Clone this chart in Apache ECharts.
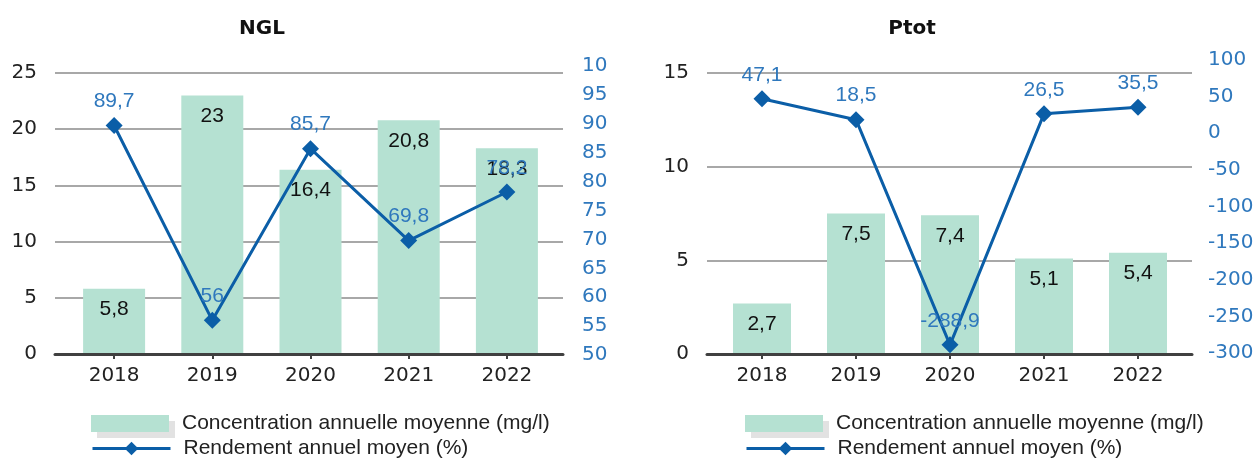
<!DOCTYPE html>
<html>
<head>
<meta charset="utf-8">
<script src="https://cdn.jsdelivr.net/npm/echarts@6/dist/echarts.min.js"></script>
<style>
	body { margin: 0; background: #fff; }
	.box { position: absolute; top: 0; height: 459px; }
</style>
</head>
<body>
<div id="ngl" class="box" style="left:0;width:607px"></div>
<div id="ptot" class="box" style="left:630px;width:630px"></div>
<script>
const years = ["2018", "2019", "2020", "2021", "2022"];
const nglConc = [5.8, 23, 16.4, 20.8, 18.3];
const nglRend = [89.7, 56, 85.7, 69.8, 78.2];
const ptotConc = [2.7, 7.5, 7.4, 5.1, 5.4];
const ptotRend = [47.1, 18.5, -288.9, 26.5, 35.5];

const concName = "Concentration annuelle moyenne (mg/l)";
const rendName = "Rendement annuel moyen (%)";

const axisFont = "DejaVu Sans";
const labelFont = "Liberation Sans";
const blue = "#2f78bd";
const lineBlue = "#0b5ea7";
const mint = "#b5e1d2";

function comma(v) {
	return String(v).replace(".", ",");
}

function legendRow(left, top, item) {
	return {
		left: left,
		top: top,
		padding: 0,
		itemWidth: 78,
		itemHeight: 17,
		selectedMode: false,
		textStyle: { fontFamily: labelFont, fontSize: 21, color: "#222", padding: [0, 0, 0, 8] },
		data: [item],
	};
}

function build(el, c) {
	let chart = echarts.init(document.getElementById(el));
	chart.setOption({
		animation: false,
		title: {
			text: c.title,
			left: c.titleX,
			top: 14,
			textAlign: "center",
			textStyle: { fontFamily: axisFont, fontSize: 20, fontWeight: "bold", color: "#111" },
		},
		legend: [
			legendRow(c.legendX, 413, {
				name: concName,
				icon: "rect",
				itemStyle: { shadowColor: "#e2e2e2", shadowOffsetX: 6, shadowOffsetY: 6, shadowBlur: 0 },
			}),
			legendRow(c.legendX, 438, { name: rendName, lineStyle: { width: 3 } }),
		],
		grid: [
			// frame: gridlines + baseline
			{ left: c.frame[0], right: c.frame[1], top: 73, height: 281, outerBoundsMode: "none" },
			// bars
			{ left: c.band[0], right: c.band[1], top: 73, height: 281, outerBoundsMode: "none" },
			// line (right axis is a little taller)
			{ left: c.band[0], right: c.band[1], top: c.lineTop, height: c.lineH, outerBoundsMode: "none" },
		],
		xAxis: [
			{
				gridIndex: 0,
				type: "category",
				data: years,
				z: 3,
				axisLine: { show: true, lineStyle: { color: "#404040", width: 3 } },
				axisTick: { show: false },
				axisLabel: { show: false },
			},
			{
				gridIndex: 1,
				type: "category",
				data: years,
				axisLine: { show: false },
				axisTick: { show: true, alignWithLabel: true, length: 5, lineStyle: { color: "#404040", width: 2 } },
				axisLabel: { fontFamily: axisFont, fontSize: 20, color: "#222", margin: 12 },
			},
			{ gridIndex: 2, type: "category", data: years, show: false },
		],
		yAxis: [
			{
				gridIndex: 0,
				type: "value",
				min: 0,
				max: c.leftMax,
				interval: 5,
				axisLine: { show: false },
				axisTick: { show: false },
				axisLabel: { fontFamily: axisFont, fontSize: 20, color: "#222", margin: 18 },
				splitLine: { show: true, lineStyle: { color: "#a8a8a8", width: 2 } },
			},
			{ gridIndex: 1, type: "value", min: 0, max: c.leftMax, show: false },
			{
				gridIndex: 2,
				type: "value",
				position: "right",
				min: c.rightMin,
				max: c.rightMax,
				interval: c.rightStep,
				axisLine: { show: false },
				axisTick: { show: false },
				splitLine: { show: false },
				axisLabel: { fontFamily: axisFont, fontSize: 20, color: blue, margin: c.rightMargin },
			},
		],
		series: [
			{
				name: concName,
				type: "bar",
				xAxisIndex: 1,
				yAxisIndex: 1,
				data: c.conc,
				barWidth: c.barWidth,
				itemStyle: { color: mint },
				z: 2,
				label: {
					show: true,
					position: "insideTop",
					distance: 10,
					formatter: (p) => comma(p.value),
					fontFamily: labelFont,
					fontSize: 21,
					color: "#111",
				},
			},
			{
				name: rendName,
				type: "line",
				xAxisIndex: 2,
				yAxisIndex: 2,
				data: c.rend,
				symbol: "diamond",
				symbolSize: 17,
				z: 5,
				lineStyle: { color: lineBlue, width: 3 },
				itemStyle: { color: lineBlue },
				label: {
					show: true,
					position: "top",
					distance: 5,
					formatter: (p) => comma(p.value),
					fontFamily: labelFont,
					fontSize: 21,
					color: blue,
				},
			},
		],
	});
	return chart;
}

build("ngl", {
	title: "NGL",
	titleX: 257,
	legendX: 91,
	frame: [55, 44],
	band: [65, 51],
	lineTop: 66,
	lineH: 289,
	leftMax: 25,
	rightMin: 50,
	rightMax: 100,
	rightStep: 5,
	rightMargin: 26,
	barWidth: 62,
	conc: nglConc,
	rend: nglRend,
});

build("ptot", {
	title: "Ptot",
	titleX: 277,
	legendX: 115,
	frame: [77, 68],
	band: [85, 75],
	lineTop: 60,
	lineH: 293,
	leftMax: 15,
	rightMin: -300,
	rightMax: 100,
	rightStep: 50,
	rightMargin: 23,
	barWidth: 58,
	conc: ptotConc,
	rend: ptotRend,
});
</script>
</body>
</html>
